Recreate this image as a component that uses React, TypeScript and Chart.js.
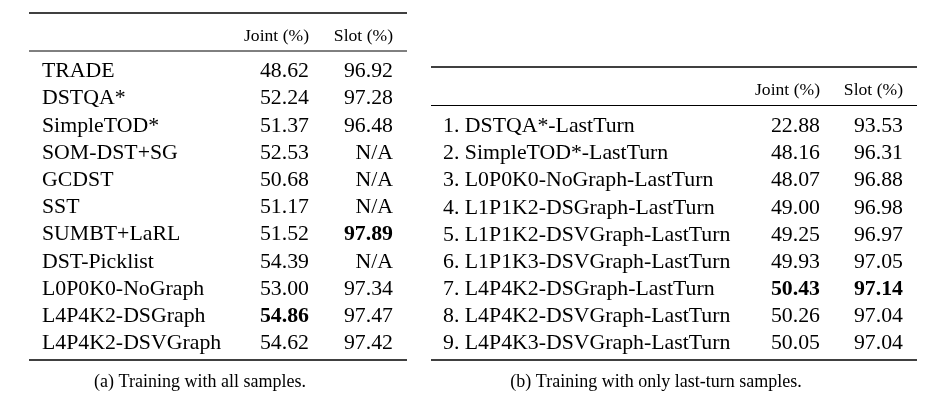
import React, { useEffect, useRef } from "react";
import { Chart, registerables } from "chart.js";

Chart.register(...registerables);

// ---- data ----
const headerJoint = "Joint (%)";
const headerSlot = "Slot (%)";

const leftNames = [
  "TRADE",
  "DSTQA*",
  "SimpleTOD*",
  "SOM-DST+SG",
  "GCDST",
  "SST",
  "SUMBT+LaRL",
  "DST-Picklist",
  "L0P0K0-NoGraph",
  "L4P4K2-DSGraph",
  "L4P4K2-DSVGraph",
];
const leftJoint = ["48.62", "52.24", "51.37", "52.53", "50.68", "51.17", "51.52", "54.39", "53.00", "54.86", "54.62"];
const leftSlot = ["96.92", "97.28", "96.48", "N/A", "N/A", "N/A", "97.89", "N/A", "97.34", "97.47", "97.42"];
const leftJointBold = [9];
const leftSlotBold = [6];
const leftCaption = "(a) Training with all samples.";

const rightNames = [
  "1. DSTQA*-LastTurn",
  "2. SimpleTOD*-LastTurn",
  "3. L0P0K0-NoGraph-LastTurn",
  "4. L1P1K2-DSGraph-LastTurn",
  "5. L1P1K2-DSVGraph-LastTurn",
  "6. L1P1K3-DSVGraph-LastTurn",
  "7. L4P4K2-DSGraph-LastTurn",
  "8. L4P4K2-DSVGraph-LastTurn",
  "9. L4P4K3-DSVGraph-LastTurn",
];
const rightJoint = ["22.88", "48.16", "48.07", "49.00", "49.25", "49.93", "50.43", "50.26", "50.05"];
const rightSlot = ["93.53", "96.31", "96.88", "96.98", "96.97", "97.05", "97.14", "97.04", "97.04"];
const rightJointBold = [6];
const rightSlotBold = [6];
const rightCaption = "(b) Training with only last-turn samples.";

// ---- layout ----
const W = 927;
const H = 402;
const FONT = '"Liberation Serif", "Times New Roman", serif';

type TableCfg = {
  names: string[];
  joint: string[];
  slot: string[];
  jointBold: number[];
  slotBold: number[];
  caption: string;
  padLeft: number;
  padRight: number;
  padTop: number;
  padBottom: number;
  topRule: number;
  headerBase: number;
  midRule: number;
  bottomRule: number;
  nameX: number;
  jointX: number;
  slotX: number;
  captionX: number;
  captionBase: number;
};

const leftCfg: TableCfg = {
  names: leftNames,
  joint: leftJoint,
  slot: leftSlot,
  jointBold: leftJointBold,
  slotBold: leftSlotBold,
  caption: leftCaption,
  padLeft: 29,
  padRight: W - 407,
  padTop: 56.4,
  padBottom: H - 355.6,
  topRule: 13,
  headerBase: 40.5,
  midRule: 51,
  bottomRule: 360,
  nameX: 42,
  jointX: 309,
  slotX: 393,
  captionX: 200,
  captionBase: 387,
};

const rightCfg: TableCfg = {
  names: rightNames,
  joint: rightJoint,
  slot: rightSlot,
  jointBold: rightJointBold,
  slotBold: rightSlotBold,
  caption: rightCaption,
  padLeft: 431,
  padRight: W - 917,
  padTop: 111.5,
  padBottom: H - 355.5,
  topRule: 67,
  headerBase: 94.5,
  midRule: 105.5,
  bottomRule: 360,
  nameX: 443,
  jointX: 820,
  slotX: 903,
  captionX: 656,
  captionBase: 387,
};

function makeTablePlugin(cfg: TableCfg) {
  return {
    id: "tableDraw",
    afterDraw(chart: any) {
      const ctx = chart.ctx as CanvasRenderingContext2D;
      const area = chart.chartArea;
      const y = chart.scales.y;
      ctx.save();
      ctx.fillStyle = "#000";
      ctx.strokeStyle = "#000";
      const rule = (yy: number, w: number) => {
        ctx.lineWidth = w;
        ctx.beginPath();
        ctx.moveTo(area.left, yy);
        ctx.lineTo(area.right, yy);
        ctx.stroke();
      };
      rule(cfg.topRule, 1.6);
      rule(cfg.midRule, 1);
      rule(cfg.bottomRule, 1.6);

      ctx.textBaseline = "alphabetic";
      ctx.font = `17.6px ${FONT}`;
      ctx.textAlign = "right";
      ctx.fillText(headerJoint, cfg.jointX, cfg.headerBase);
      ctx.fillText(headerSlot, cfg.slotX, cfg.headerBase);

      const fs = 21.8;
      cfg.names.forEach((name, i) => {
        const cy = y.getPixelForValue(i) + fs * 0.33;
        ctx.font = `${fs}px ${FONT}`;
        ctx.textAlign = "left";
        ctx.fillText(name, cfg.nameX, cy);
        ctx.textAlign = "right";
        ctx.font = `${cfg.jointBold.includes(i) ? "bold " : ""}${fs}px ${FONT}`;
        ctx.fillText(cfg.joint[i], cfg.jointX, cy);
        ctx.font = `${cfg.slotBold.includes(i) ? "bold " : ""}${fs}px ${FONT}`;
        ctx.fillText(cfg.slot[i], cfg.slotX, cy);
      });

      ctx.font = `18px ${FONT}`;
      ctx.textAlign = "center";
      ctx.fillText(cfg.caption, cfg.captionX, cfg.captionBase);
      ctx.restore();
    },
  };
}

function TableChart({ cfg }: { cfg: TableCfg }) {
  const ref = useRef<HTMLCanvasElement | null>(null);
  useEffect(() => {
    if (!ref.current) return;
    const chart = new Chart(ref.current, {
      type: "scatter",
      data: { labels: cfg.names, datasets: [] },
      options: {
        responsive: false,
        animation: false,
        events: [],
        layout: {
          padding: { left: cfg.padLeft, right: cfg.padRight, top: cfg.padTop, bottom: cfg.padBottom },
        },
        plugins: { legend: { display: false }, tooltip: { enabled: false } },
        scales: {
          x: { type: "linear", display: false, min: 0, max: 1 },
          y: { type: "category", labels: cfg.names, offset: true, display: false },
        },
      } as any,
      plugins: [makeTablePlugin(cfg)],
    });
    return () => chart.destroy();
  }, [cfg]);
  return (
    <canvas
      ref={ref}
      width={W}
      height={H}
      style={{ position: "absolute", left: 0, top: 0, width: W, height: H }}
    />
  );
}

export default function App() {
  return (
    <div style={{ position: "fixed", left: 0, top: 0, width: W, height: H, background: "#fff" }}>
      <TableChart cfg={leftCfg} />
      <TableChart cfg={rightCfg} />
    </div>
  );
}
